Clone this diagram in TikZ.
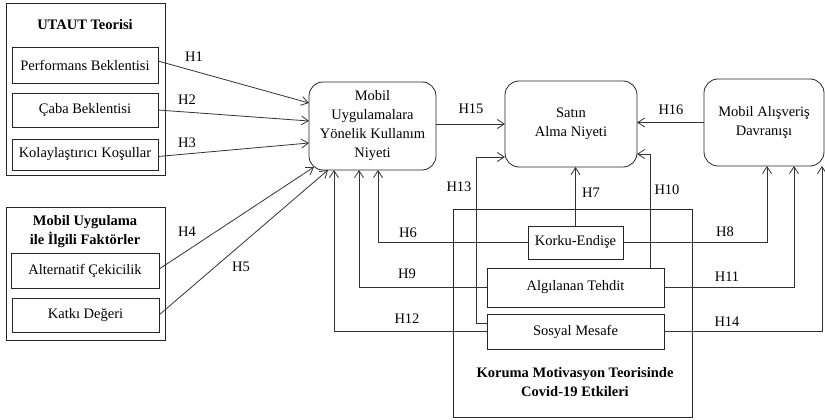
\documentclass[tikz,border=0pt]{standalone}
\usepackage{fontspec}
\setmainfont{Liberation Serif}
\usetikzlibrary{arrows.meta,calc}

\begin{document}
\begin{tikzpicture}[x=1pt,y=-1pt,
  every node/.style={font=\fontsize{14.5}{19}\selectfont, inner sep=0pt, outer sep=0pt, align=center},
  plainbox/.style={draw=black!85, line width=0.8pt},
  groupbox/.style={draw=black!85, line width=0.8pt},
  roundbox/.style={draw=black!85, line width=0.8pt, rounded corners=14pt},
  titletext/.style={font=\fontsize{14.5}{19}\selectfont\bfseries},
  hlabel/.style={font=\fontsize{14.5}{17}\selectfont},
  arr/.style={draw=black!80, line width=0.8pt, -{Straight Barb[length=7pt,width=9pt]}},
  link/.style={draw=black!80, line width=0.8pt}]

  \fill[white] (0,0) rectangle (825,420);
  \useasboundingbox (0,0) rectangle (825,420);

  % UTAUT group
  \node[groupbox, minimum width=159, minimum height=172] (utaut) at (85.5,89) {};
  \node[titletext] (utauttitle) at (85,25) {UTAUT Teorisi};
  \node[plainbox, minimum width=146, minimum height=36] (perf) at (85,65) {Performans Beklentisi};
  \node[plainbox, minimum width=146, minimum height=34] (caba) at (85,110) {Çaba Beklentisi};
  \node[plainbox, minimum width=146, minimum height=31] (kolay) at (85,154.5) {Kolaylaştırıcı Koşullar};

  % mobile application group
  \node[groupbox, minimum width=159, minimum height=133] (mobgrp) at (85.5,273.5) {};
  \node[titletext] (mobtitle) at (85,231.5) {Mobil Uygulama\\ile İlgili Faktörler};
  \node[plainbox, minimum width=148, minimum height=35] (alt) at (85,270.5) {Alternatif Çekicilik};
  \node[plainbox, minimum width=147, minimum height=34] (katki) at (85.5,315) {Katkı Değeri};

  % central constructs
  \node[roundbox, minimum width=127, minimum height=88] (niyet) at (372.5,126) {Mobil\\Uygulamalara\\Yönelik Kullanım\\Niyeti};
  \node[roundbox, minimum width=132, minimum height=86] (satin) at (571,124) {Satın\\Alma Niyeti};
  \node[roundbox, minimum width=120, minimum height=87] (alis) at (764,122.5) {Mobil Alışveriş\\Davranışı};

  % Covid-19 group
  \node[groupbox, minimum width=239, minimum height=208] (covid) at (572.5,313) {};
  \node[titletext] (covidtitle) at (575,382) {Koruma Motivasyon Teorisinde\\Covid-19 Etkileri};
  \node[plainbox, fill=white, minimum width=95, minimum height=33] (korku) at (575.5,242.5) {Korku-Endişe};
  \node[plainbox, fill=white, minimum width=177, minimum height=39] (algi) at (575.5,287.5) {Algılanan Tehdit};
  \node[plainbox, fill=white, minimum width=177, minimum height=35] (sosyal) at (575.5,331.5) {Sosyal Mesafe};

  % UTAUT paths
  \draw[arr] ([yshift=4pt]perf.east) -- ([yshift=23pt]niyet.west);
  \draw[arr] (caba.east) -- ([yshift=5pt]niyet.west);
  \draw[arr] ([yshift=-2pt]kolay.east) -- ([yshift=-17pt]niyet.west);

  % mobile application paths
  \draw[arr] ([xshift=1pt,yshift=2pt]alt.east) -- ([xshift=5pt,yshift=3pt]niyet.south west);
  \draw[arr] (katki.east) -- ([xshift=19pt]niyet.south west);

  % Covid-19 paths into usage intention
  \draw[arr] (korku.west) -| ([xshift=5.5pt]niyet.south);
  \draw[arr] (algi.west) -| ([xshift=-13.5pt]niyet.south);
  \draw[arr] (sosyal.west) -| ([xshift=-38.5pt]niyet.south);

  % Covid-19 paths into purchase intention
  \draw[arr] ([yshift=8.5pt]sosyal.west) -- ++(-11,0) |- ([yshift=-33pt]satin.west);
  \draw[arr] (korku.north) -- (korku.north |- satin.south);
  \draw[arr] ([xshift=-14pt]algi.north east) |- ([yshift=-30pt]satin.east);

  % Covid-19 paths into shopping behaviour
  \draw[arr] (korku.east) -| ([xshift=3pt]alis.south);
  \draw[arr] (algi.east) -| ([xshift=30pt]alis.south);
  \draw[arr] (sosyal.east) -| ([xshift=-2pt]alis.south east);

  % paths into purchase intention
  \draw[arr] (niyet.east |- satin.west) -- (satin.west);
  \draw[arr] (alis.west) -- (alis.west -| satin.east);

  % hypothesis labels
  \node[hlabel] (lh1) at (194,57) {H1};
  \node[hlabel] (lh2) at (187,100) {H2};
  \node[hlabel] (lh3) at (187,143) {H3};
  \node[hlabel] (lh4) at (187,232) {H4};
  \node[hlabel] (lh5) at (241,267) {H5};
  \node[hlabel] (lh6) at (408,233) {H6};
  \node[hlabel] (lh7) at (591,193) {H7};
  \node[hlabel] (lh8) at (725,232) {H8};
  \node[hlabel] (lh9) at (407,274) {H9};
  \node[hlabel] (lh10) at (667,190) {H10};
  \node[hlabel] (lh11) at (727,277) {H11};
  \node[hlabel] (lh12) at (407,319) {H12};
  \node[hlabel] (lh13) at (459,187) {H13};
  \node[hlabel] (lh14) at (727,322) {H14};
  \node[hlabel] (lh15) at (471,109) {H15};
  \node[hlabel] (lh16) at (671,110) {H16};
\end{tikzpicture}
\end{document}
